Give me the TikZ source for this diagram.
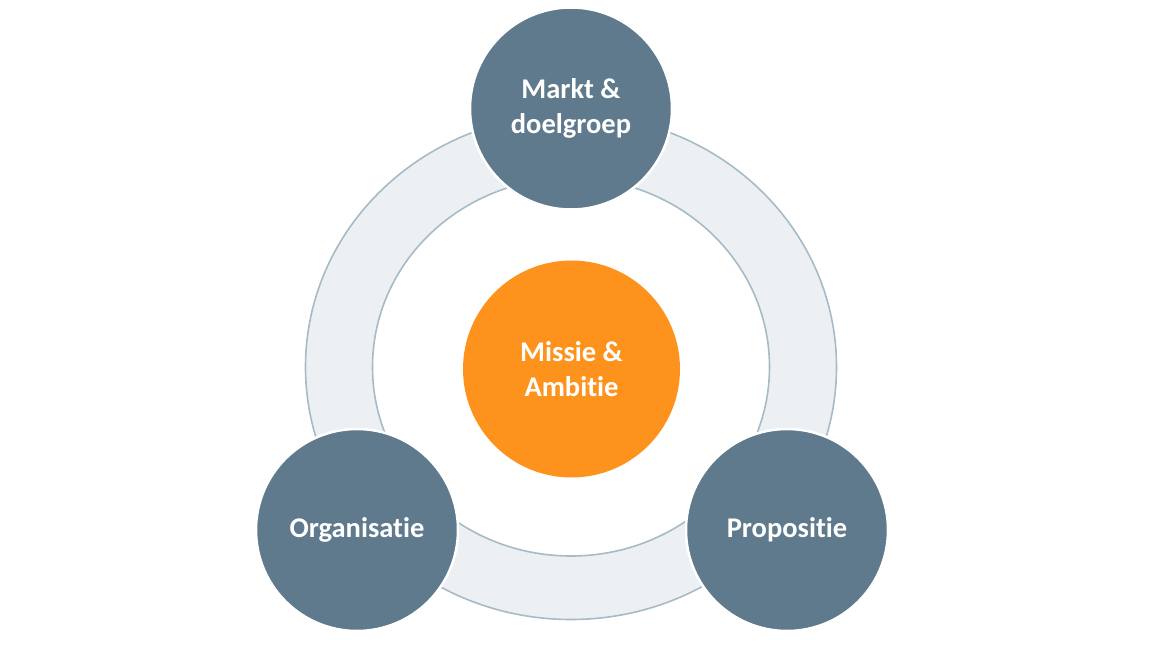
\documentclass[tikz,border=0pt]{standalone}
\usepackage{fontspec}
\setmainfont{Carlito}[Ligatures=NoCommon]
\usepackage{xcolor}
\usepackage{tikz}
\definecolor{ringfill}{HTML}{ECF0F3}
\definecolor{ringline}{HTML}{A7BBC6}
\definecolor{slate}{HTML}{5E7A8C}
\definecolor{mango}{HTML}{FD921C}

\begin{document}
\begin{tikzpicture}[
    x=1pt, y=-1pt,
    ring/.style={ringline, line width=1.6pt},
    pillar/.style={circle, fill=slate, draw=white, line width=2.5pt,
        minimum size=202pt, inner sep=0pt, text=white, align=center,
        font=\fontsize{28.5}{35}\selectfont\bfseries},
    core/.style={circle, fill=mango, minimum size=217pt, inner sep=0pt,
        text=white, align=center, font=\fontsize{28.5}{35}\selectfont\bfseries}
]
\useasboundingbox (0,0) rectangle (1168,650);

% ring band
\fill[ringfill, even odd rule]
    (571,367) ellipse [x radius=265.5, y radius=252.5]
    (571,367) ellipse [x radius=198.5, y radius=189];
\draw[ring] (571,367) ellipse [x radius=265.5, y radius=252.5];
\draw[ring] (571,367) ellipse [x radius=198.5, y radius=189];

\node[core] (missie) at (571.5,369) {Missie \&\\Ambitie};

\node[pillar] (markt) at (571,108.5) {Markt \&\\doelgroep};
\node[pillar] (organisatie) at (357,530) {Organisatie};
\node[pillar] (propositie) at (787,530) {Propositie};
\end{tikzpicture}
\end{document}
